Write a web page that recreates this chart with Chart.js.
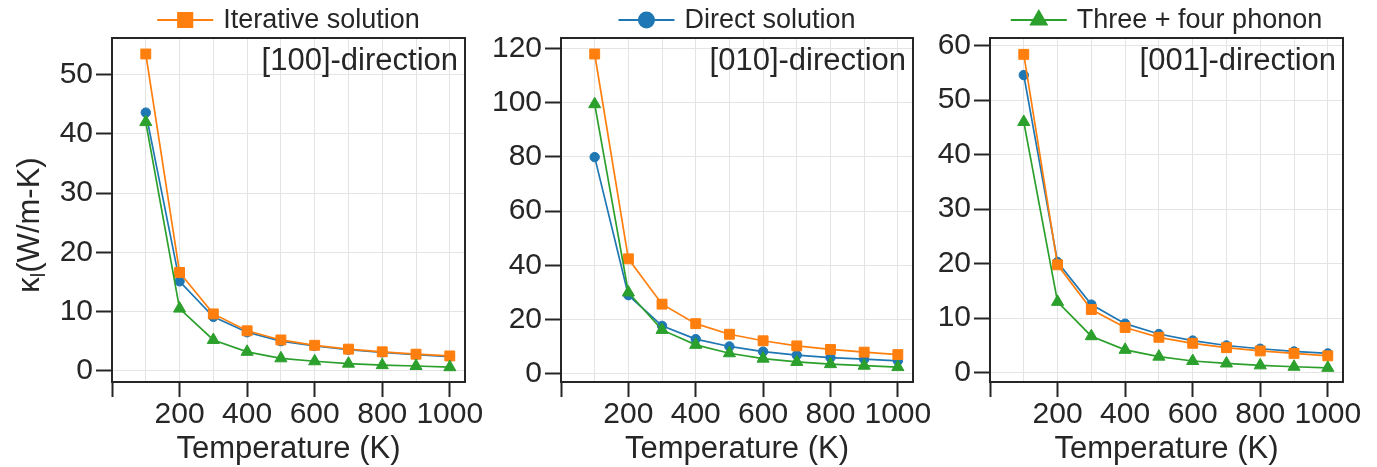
<!DOCTYPE html>
<html>
<head>
<meta charset="utf-8">
<script src="https://cdn.jsdelivr.net/npm/chart.js@4.4.1/dist/chart.umd.min.js"></script>
<style>
  body { margin: 0; background: #fff; }
  #wrap { position: relative; width: 1377px; height: 467px; overflow: hidden; }
  #wrap canvas { position: absolute; top: 0; }
</style>
</head>
<body>
<div id="wrap">
  <canvas id="c100" width="490" height="467" style="left:0px"></canvas>
  <canvas id="c010" width="470" height="467" style="left:470px"></canvas>
  <canvas id="c001" width="457" height="467" style="left:920px"></canvas>
</div>
<script>
// temperatures (K)
const temps = [100, 200, 300, 400, 500, 600, 700, 800, 900, 1000];
const xTickLabels = [200, 400, 600, 800, 1000];

// lattice thermal conductivity, W/m-K
const iter100   = [53.5, 16.6, 9.6, 6.75, 5.2, 4.3, 3.65, 3.2, 2.8, 2.5];
const direct100 = [43.6, 15.1, 9.1, 6.5, 5.0, 4.2, 3.55, 3.1, 2.7, 2.4];
const phonon100 = [42.0, 10.5, 5.2, 3.2, 2.1, 1.6, 1.2, 0.95, 0.8, 0.6];

const iter010   = [117.9, 42.4, 25.7, 18.5, 14.6, 12.2, 10.3, 9.0, 8.0, 7.1];
const direct010 = [79.9, 29.0, 17.7, 12.8, 10.1, 8.2, 6.9, 6.0, 5.4, 4.8];
const phonon010 = [99.4, 30.0, 16.2, 10.7, 7.6, 5.6, 4.4, 3.6, 3.0, 2.5];

const iter001   = [58.4, 19.8, 11.6, 8.3, 6.5, 5.4, 4.6, 4.0, 3.55, 3.1];
const direct001 = [54.6, 20.3, 12.5, 9.0, 7.1, 5.9, 5.0, 4.4, 3.9, 3.55];
const phonon001 = [46.0, 13.0, 6.7, 4.2, 2.95, 2.15, 1.7, 1.35, 1.1, 0.9];

const BLUE = '#1f77b4', ORANGE = '#ff7f0e', GREEN = '#2ca02c';
const INK = '#262626';
const GRID = '#e4e4e4';
const FONT = '"Liberation Sans", Arial, Helvetica, sans-serif';

// frame, direction tag, single legend entry and optional y title
const panelDecor = {
  id: 'panelDecor',
  afterDraw(chart, args, opts) {
    const { ctx, chartArea: a } = chart;
    ctx.save();
    ctx.strokeStyle = INK;
    ctx.lineWidth = 2;
    ctx.strokeRect(a.left, a.top, a.right - a.left, a.bottom - a.top);

    ctx.fillStyle = INK;
    ctx.font = '31px ' + FONT;
    ctx.textAlign = 'right';
    ctx.textBaseline = 'middle';
    ctx.fillText(opts.direction, a.right - 7, 61);

    const ds = chart.data.datasets[opts.legend];
    ctx.font = '27px ' + FONT;
    const tw = ctx.measureText(ds.label).width;
    const lineLen = 56, gap = 10, y0 = 20;
    const x0 = (a.left + a.right) / 2 - (lineLen + gap + tw) / 2;
    ctx.strokeStyle = ds.borderColor;
    ctx.lineWidth = 2;
    ctx.beginPath();
    ctx.moveTo(x0, y0);
    ctx.lineTo(x0 + lineLen, y0);
    ctx.stroke();
    ctx.fillStyle = ds.borderColor;
    Chart.helpers.drawPoint(ctx, { pointStyle: ds.pointStyle, radius: ds.legendRadius, borderWidth: 1, rotation: 0 }, x0 + lineLen / 2, y0);
    ctx.fillStyle = INK;
    ctx.textAlign = 'left';
    ctx.fillText(ds.label, x0 + lineLen + gap, y0 + 1);

    if (opts.yTitle) {
      ctx.translate(28, 225);
      ctx.rotate(-Math.PI / 2);
      const big = '31px ' + FONT, small = '20px ' + FONT;
      ctx.font = big;
      const wK = ctx.measureText('κ').width;
      const wRest = ctx.measureText('(W/m-K)').width;
      ctx.font = small;
      const wSub = ctx.measureText('l').width;
      let x = -(wK + wSub + wRest) / 2;
      ctx.textBaseline = 'alphabetic';
      ctx.font = big;
      ctx.fillText('κ', x, 11);
      x += wK;
      ctx.font = small;
      ctx.fillText('l', x, 17);
      x += wSub;
      ctx.font = big;
      ctx.fillText('(W/m-K)', x, 11);
    }
    ctx.restore();
  }
};

function series(label, values, color, style, radius, legendRadius) {
  return {
    label: label,
    data: temps.map((t, i) => ({ x: t, y: values[i] })),
    borderColor: color,
    backgroundColor: color,
    borderWidth: 1.7,
    pointStyle: style,
    pointRadius: radius,
    pointBorderWidth: 1,
    pointBorderColor: color,
    pointBackgroundColor: color,
    legendRadius: legendRadius,
    tension: 0
  };
}

function makePanel(id, iter, direct, phonon, y, layout, legendIdx, direction, yTitle) {
  // first dataset is painted last, so green sits on top, blue at the bottom
  const datasets = [
    series('Three + four phonon', phonon, GREEN, 'triangle', 7, 9),
    series('Iterative solution', iter, ORANGE, 'rect', 7, 10),
    series('Direct solution', direct, BLUE, 'circle', 4.7, 7.5)
  ];
  return new Chart(document.getElementById(id), {
    type: 'line',
    data: { datasets: datasets },
    plugins: [panelDecor],
    options: {
      responsive: false,
      animation: false,
      layout: { padding: { top: 38, right: layout.right, left: 0, bottom: 0 } },
      plugins: {
        legend: { display: false },
        tooltip: { enabled: false },
        panelDecor: { legend: legendIdx, direction: direction, yTitle: yTitle }
      },
      scales: {
        x: {
          type: 'linear',
          min: 0,
          max: 1045,
          ticks: {
            stepSize: 100,
            includeBounds: false,
            autoSkip: false,
            maxRotation: 0,
            padding: 0,
            color: INK,
            font: { family: FONT, size: 30 },
            callback: v => xTickLabels.includes(v) ? String(v) : ''
          },
          grid: {
            color: GRID,
            lineWidth: 1,
            tickLength: 15,
            tickWidth: 2,
            tickColor: c => (c.tick && c.tick.value % 200 === 0) ? INK : 'rgba(0,0,0,0)'
          },
          border: { display: true, color: INK, width: 2 },
          title: {
            display: true,
            text: 'Temperature (K)',
            color: INK,
            padding: 0,
            font: { family: FONT, size: 31, lineHeight: 1.1 }
          },
          afterFit: s => { s.height = 85; s.paddingLeft = 0; s.paddingRight = 0; }
        },
        y: {
          min: y.min,
          max: y.max,
          ticks: {
            stepSize: y.step,
            includeBounds: false,
            padding: 3,
            color: INK,
            font: { family: FONT, size: 30 }
          },
          grid: {
            color: GRID,
            lineWidth: 1,
            tickLength: 16,
            tickWidth: 2,
            tickColor: INK
          },
          border: { display: true, color: INK, width: 2 },
          afterFit: s => { s.width = layout.yWidth; s.paddingTop = 0; s.paddingBottom = 0; }
        }
      }
    }
  });
}

makePanel('c100', iter100, direct100, phonon100,
  { min: -1.9, max: 56.2, step: 10 }, { yWidth: 112, right: 25 },
  1, '[100]-direction', true);
makePanel('c010', iter010, direct010, phonon010,
  { min: -3, max: 123.8, step: 20 }, { yWidth: 91, right: 27 },
  2, '[010]-direction', false);
makePanel('c001', iter001, direct001, phonon001,
  { min: -1.7, max: 61.4, step: 10 }, { yWidth: 70, right: 34 },
  0, '[001]-direction', false);
</script>
</body>
</html>
